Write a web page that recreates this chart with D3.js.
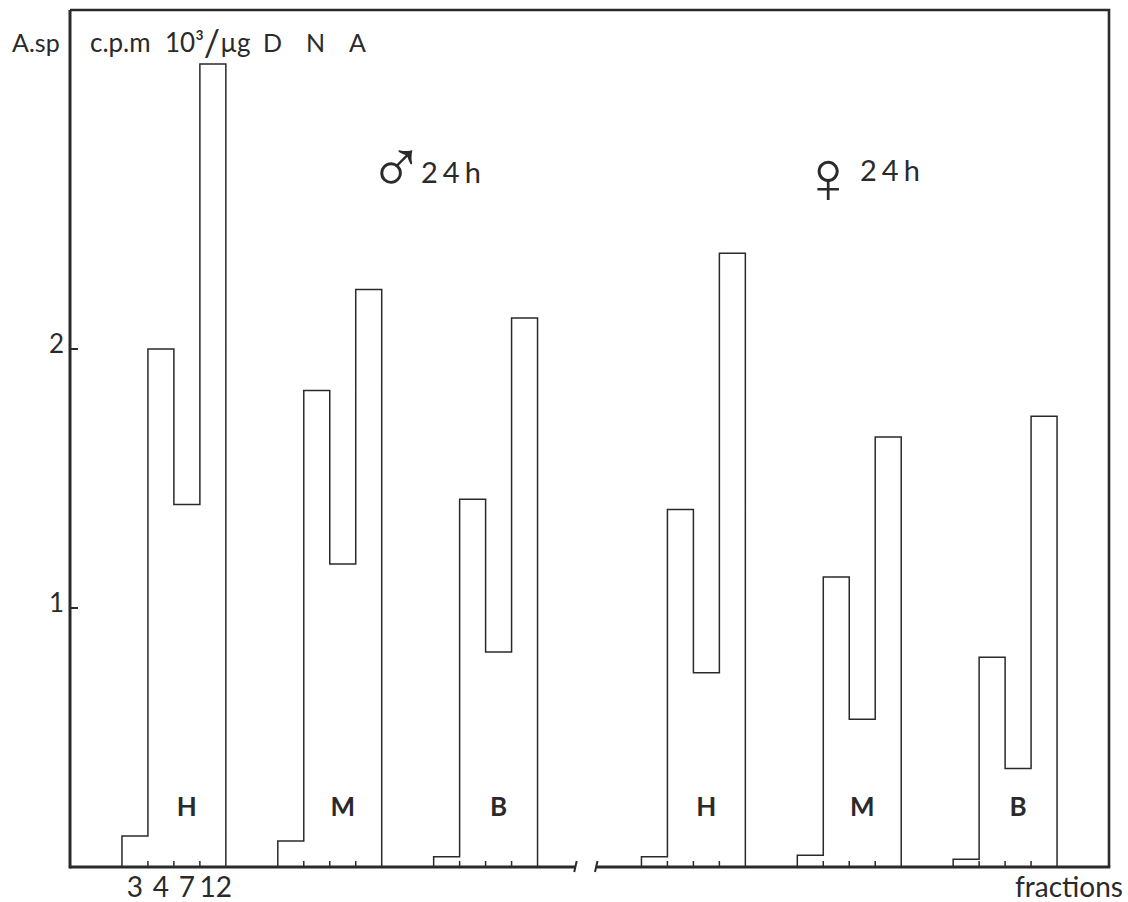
<!DOCTYPE html>
<html>
<head>
<meta charset="utf-8">
<script src="https://cdn.jsdelivr.net/npm/d3@7"></script>
<style>
  body { margin: 0; background: #fff; }
  text { font-family: Lato, "DejaVu Sans", sans-serif; fill: #2a2a2a; }
</style>
</head>
<body>
<div id="chart"></div>
<script>
// fractions on the x axis of each group
const fractions = ["3", "4", "7", "12"];
const groupNames = ["H", "M", "B", "H", "M", "B"];
const sexes = ["male", "male", "male", "female", "female", "female"];
// specific activity (c.p.m 10^3 / ug DNA), one array per group
const maleH = [0.12, 2.00, 1.40, 3.10];
const maleM = [0.10, 1.84, 1.17, 2.23];
const maleB = [0.04, 1.42, 0.83, 2.12];
const femaleH = [0.04, 1.38, 0.75, 2.37];
const femaleM = [0.045, 1.12, 0.57, 1.66];
const femaleB = [0.03, 0.81, 0.38, 1.74];
const yTicks = [1, 2];

const groupValues = [maleH, maleM, maleB, femaleH, femaleM, femaleB];

const width = 1128, height = 902;
const frameLeft = 70, frameRight = 1109, frameTop = 10, baseY = 867;
const ink = "#2a2a2a";

const svg = d3.select("#chart").append("svg")
    .attr("width", width)
    .attr("height", height);

// 40 bar slots across the frame
const x = d3.scaleLinear().domain([0, 40]).range([frameLeft, frameRight]);
const y = d3.scaleLinear().domain([0, 2]).range([baseY, 349]);

// start slot of each group: 2 empty slots between groups, 2 more at the break
function groupStart(i) {
    return 2 + i * 6 + (i >= 3 ? 2 : 0);
}

// step outline for each group
groupValues.forEach(function (vals, i) {
    const s = groupStart(i);
    const pts = [[x(s), y(0)]];
    vals.forEach(function (v, j) {
        pts.push([x(s + j), y(v)]);
        pts.push([x(s + j + 1), y(v)]);
    });
    pts.push([x(s + vals.length), y(0)]);
    svg.append("path")
        .attr("d", d3.line()(pts))
        .attr("fill", "none")
        .attr("stroke", ink)
        .attr("stroke-width", 1.5);

    // small ticks at inner bar boundaries
    for (let j = 1; j < vals.length; j++) {
        svg.append("line")
            .attr("x1", x(s + j)).attr("x2", x(s + j))
            .attr("y1", baseY).attr("y2", baseY - 6)
            .attr("stroke", ink).attr("stroke-width", 1.5);
    }

    // group label over third bar
    svg.append("text")
        .attr("x", x(s + 2.5))
        .attr("y", 816)
        .attr("text-anchor", "middle")
        .style("font-size", "26px")
        .style("font-weight", 700)
        .text(groupNames[i]);
});

// frame: top and right
svg.append("path")
    .attr("d", d3.line()([[frameLeft, frameTop], [frameRight, frameTop], [frameRight, baseY]]))
    .attr("fill", "none").attr("stroke", ink).attr("stroke-width", 2.6);

// left axis
svg.append("line")
    .attr("x1", frameLeft).attr("x2", frameLeft)
    .attr("y1", frameTop).attr("y2", baseY + 1.5)
    .attr("stroke", ink).attr("stroke-width", 3);

// bottom axis with break
const breakL = x(19.45), breakR = x(20.25);
svg.append("line")
    .attr("x1", frameLeft).attr("x2", breakL)
    .attr("y1", baseY).attr("y2", baseY)
    .attr("stroke", ink).attr("stroke-width", 3);
svg.append("line")
    .attr("x1", breakR).attr("x2", frameRight + 1.3)
    .attr("y1", baseY).attr("y2", baseY)
    .attr("stroke", ink).attr("stroke-width", 3);
[breakL, breakR].forEach(function (bx) {
    svg.append("line")
        .attr("x1", bx + 1.5).attr("x2", bx - 1)
        .attr("y1", baseY - 6).attr("y2", baseY + 5)
        .attr("stroke", ink).attr("stroke-width", 2);
});

// y ticks
yTicks.forEach(function (t) {
    svg.append("line")
        .attr("x1", frameLeft).attr("x2", frameLeft + 8)
        .attr("y1", y(t)).attr("y2", y(t))
        .attr("stroke", ink).attr("stroke-width", 2);
    svg.append("text")
        .attr("x", 64)
        .attr("y", y(t) + 4)
        .attr("text-anchor", "end")
        .style("font-size", "26px")
        .text(t);
});

// fraction numbers under the first group
fractions.forEach(function (f, j) {
    svg.append("text")
        .attr("x", x(groupStart(0) + j + 0.5) + (j === 3 ? 3 : 0))
        .attr("y", 897)
        .attr("text-anchor", "middle")
        .style("font-size", "28px")
        .text(f);
});

svg.append("text")
    .attr("x", 1123).attr("y", 897)
    .attr("text-anchor", "end")
    .style("font-size", "28px")
    .text("fractions");

// y axis title
svg.append("text").attr("x", 12).attr("y", 52).style("font-size", "25px").text("A.sp");
svg.append("text").attr("x", 90).attr("y", 52).style("font-size", "26px").text("c.p.m");
const unit = svg.append("text").attr("x", 165).attr("y", 52).style("font-size", "26px");
unit.append("tspan").text("10³");
unit.append("tspan").attr("dy", 4).style("font-size", "36px").text("/");
unit.append("tspan").attr("dy", -4).text("µg");
svg.append("text").attr("x", 263).attr("y", 52).style("font-size", "25px")
    .style("letter-spacing", "24px").text("DNA");

// sex labels
svg.append("text").attr("x", 368).attr("y", 193)
    .style("font-family", "'DejaVu Sans'").style("font-weight", 200)
    .style("font-size", "76px").text("♂");
svg.append("text").attr("x", 421).attr("y", 183)
    .style("font-size", "29px").style("letter-spacing", "5px").text("24h");
svg.append("text").attr("x", 800).attr("y", 203)
    .style("font-family", "'DejaVu Sans'").style("font-weight", 200)
    .style("font-size", "75px").text("♀");
svg.append("text").attr("x", 860).attr("y", 181)
    .style("font-size", "29px").style("letter-spacing", "5px").text("24h");
</script>
</body>
</html>
